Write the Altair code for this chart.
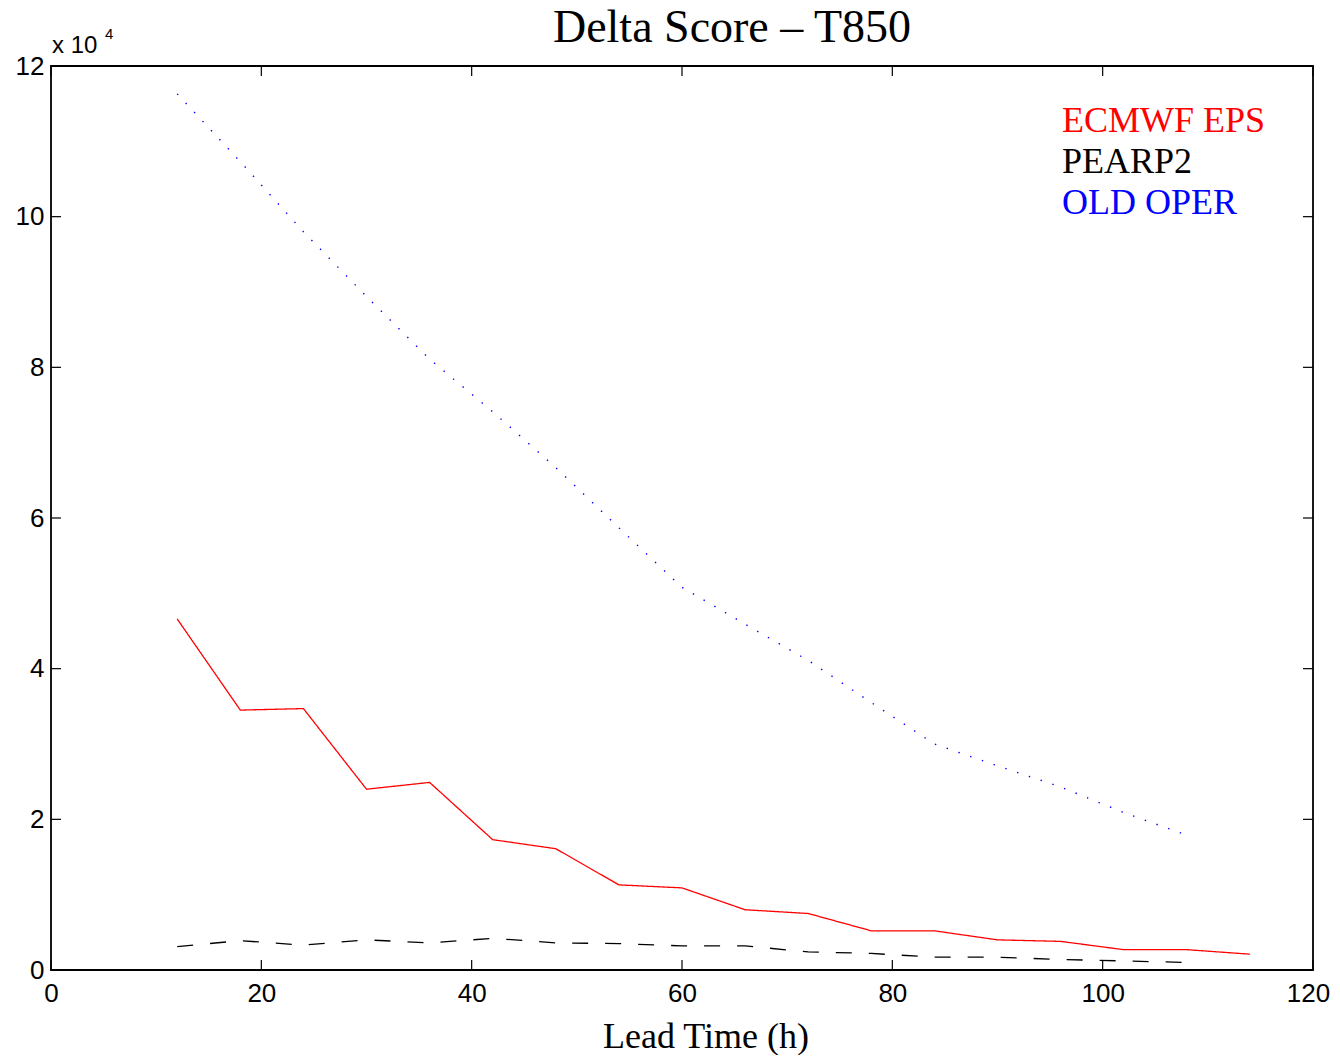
import altair as alt
import pandas as pd

# ---- data (values in raw units; axis shows x 10^4) ----
lead_ecmwf = [12, 18, 24, 30, 36, 42, 48, 54, 60, 66, 72, 78, 84, 90, 96, 102, 108, 114]
ecmwf = [46600, 34500, 34700, 24000, 24900, 17300, 16100, 11300, 10900, 8000, 7500, 5200, 5200, 4000, 3800, 2700, 2700, 2100]

lead_pearp = [12, 18, 24, 30, 36, 42, 48, 54, 60, 66, 72, 78, 84, 90, 96, 102, 108]
pearp = [3100, 3900, 3300, 4000, 3600, 4200, 3600, 3500, 3200, 3200, 2400, 2200, 1700, 1700, 1400, 1200, 1000]

lead_old = [12, 18, 24, 30, 36, 42, 48, 54, 60, 66, 72, 78, 84, 90, 96, 102, 108]
old_oper = [116300, 107300, 98000, 89400, 81100, 74100, 66700, 58700, 50800, 45900, 41100, 35500, 30000, 27100, 24300, 20900, 17900]

series_names = ["ECMWF EPS", "PEARP2", "OLD OPER"]
series_colors = ["#ff0000", "#000000", "#0000ff"]

x_ticks = [0, 20, 40, 60, 80, 100, 120]
y_ticks = [0, 20000, 40000, 60000, 80000, 100000, 120000]

title_text = "Delta Score \u2013 T850"
x_title = "Lead Time (h)"

W, H = 1262, 904

rows = []
for n, xs, ys in [(series_names[0], lead_ecmwf, ecmwf),
                  (series_names[1], lead_pearp, pearp),
                  (series_names[2], lead_old, old_oper)]:
    for a, b in zip(xs, ys):
        rows.append({"series": n, "lead": a, "score": b})
df = pd.DataFrame(rows)

xscale = alt.Scale(domain=[0, 120], nice=False, zero=False)
yscale = alt.Scale(domain=[0, 120000], nice=False)

base = alt.Chart(df)

def line(name, color, dash, width):
    return base.transform_filter(alt.datum.series == name).mark_line(
        color=color, strokeWidth=width, strokeDash=dash, clip=True
    ).encode(
        x=alt.X("lead:Q", scale=xscale,
                axis=alt.Axis(values=x_ticks, title=None, grid=False, ticks=False, tickSize=0,
                              domain=False, labelFont="Liberation Sans", labelFontSize=26,
                              labelOffset={"condition": {"test": "datum.value == 120", "value": -5}, "value": 0},
                              labelColor="#000000", labelPadding=31, labelBaseline="alphabetic",
                              labelFlush=False)),
        y=alt.Y("score:Q", scale=yscale,
                axis=alt.Axis(values=y_ticks, title=None, grid=False, ticks=False, tickSize=0,
                              domain=False, labelFont="Liberation Sans", labelFontSize=26,
                              labelColor="#000000", labelPadding=7, labelBaseline="middle",
                              labelExpr="format(datum.value / 10000, 'd')", labelFlush=False)),
    )

l_red = line(series_names[0], series_colors[0], [1, 0], 1.3)
l_blk = line(series_names[1], series_colors[1], [16, 17], 1.3)
l_blu = line(series_names[2], series_colors[2], [1.4, 11], 1.4)

xt = alt.Chart(pd.DataFrame({"t": x_ticks}))
yt = alt.Chart(pd.DataFrame({"t": y_ticks}))
tick_bottom = xt.mark_rule(color="black", strokeWidth=1.2).encode(
    x=alt.X("t:Q", scale=xscale), y=alt.value(H), y2=alt.value(H - 10))
tick_top = xt.mark_rule(color="black", strokeWidth=1.2).encode(
    x=alt.X("t:Q", scale=xscale), y=alt.value(0), y2=alt.value(10))
tick_left = yt.mark_rule(color="black", strokeWidth=1.2).encode(
    y=alt.Y("t:Q", scale=yscale), x=alt.value(0), x2=alt.value(10))
tick_right = yt.mark_rule(color="black", strokeWidth=1.2).encode(
    y=alt.Y("t:Q", scale=yscale), x=alt.value(W - 10), x2=alt.value(W))

one = alt.Chart(pd.DataFrame({"a": [0]}))

def txt(s, x, y, size, color="black", font="Liberation Serif", align="left"):
    return one.mark_text(text=s, font=font, fontSize=size, color=color, align=align,
                         baseline="alphabetic").encode(x=alt.value(x), y=alt.value(y))

title = txt(title_text, 681, -24, 46, align="center")
xlab = txt(x_title, 655, 982, 36, align="center")
mult = txt("x 10", 1, -13, 24, font="Liberation Sans")
mult_exp = txt("4", 54, -27, 15, font="Liberation Sans")
leg = [txt(series_names[i], 1011, 66 + 41 * i, 36, color=series_colors[i]) for i in range(3)]

chart = alt.layer(
    l_blu, l_blk, l_red,
    tick_bottom, tick_top, tick_left, tick_right,
    title, xlab, mult, mult_exp, *leg
).properties(
    width=W, height=H,
    autosize=alt.AutoSizeParams(type="none"),
    padding={"left": 43, "top": 58, "right": 18, "bottom": 85},
).configure(
    background="white"
).configure_view(
    stroke="black", strokeWidth=1.8
)

chart.save("out.html", embed_options={"renderer": "svg", "actions": False})
